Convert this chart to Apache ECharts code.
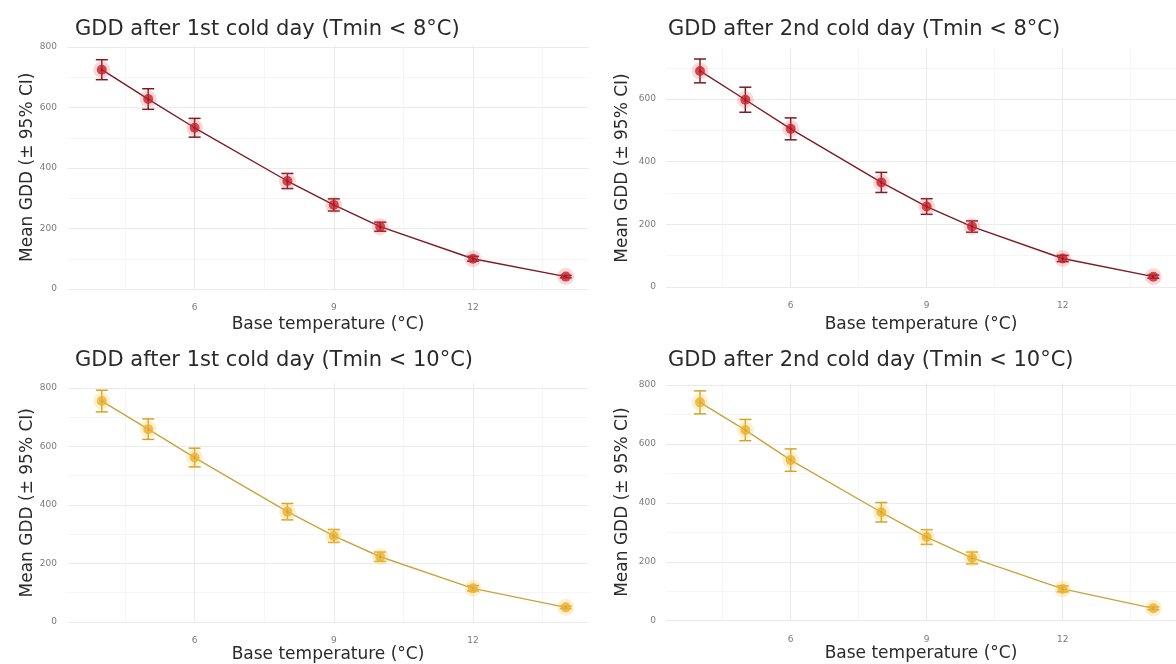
<!DOCTYPE html>
<html>
<head>
<meta charset="utf-8">
<script src="https://cdn.jsdelivr.net/npm/echarts@6/dist/echarts.min.js"></script>
<style>
  html, body { margin: 0; padding: 0; background: #fff; }
  #chart { width: 1176px; height: 664px; }
</style>
</head>
<body>
<div id="chart"></div>
<script>
// base temperatures (°C)
const baseT = [4, 5, 6, 8, 9, 10, 12, 14];

// mean GDD and half-width of the 95% CI, per panel
const mean1 = [725, 628, 533, 357, 278, 206, 100, 41];
const ci1   = [33, 34, 31, 25, 20, 15, 8, 4];
const mean2 = [690, 598, 505, 334, 257, 193, 91, 33];
const ci2   = [38, 40, 35, 32, 25, 18, 10, 5];
const mean3 = [755, 659, 562, 377, 294, 223, 115, 50];
const ci3   = [37, 35, 32, 28, 22, 16, 9, 4];
const mean4 = [741, 647, 545, 368, 284, 213, 108, 42];
const ci4   = [39, 36, 38, 33, 25, 20, 10, 5];

const titles = [
    'GDD after 1st cold day (Tmin < 8°C)',
    'GDD after 2nd cold day (Tmin < 8°C)',
    'GDD after 1st cold day (Tmin < 10°C)',
    'GDD after 2nd cold day (Tmin < 10°C)'
];
const xMajor = [6, 9, 12];
const xMinor = [4.5, 7.5, 10.5, 13.5];
const yMajor = [0, 200, 400, 600, 800];
const yMinor = [100, 300, 500, 700];

const RED = { point: '#b3121d', halo: 'rgba(235,90,100,0.3)', line: '#7e1a20', bar: '#7e1a20' };
const GOLD = { point: '#e0a526', halo: 'rgba(250,205,90,0.38)', line: '#c9a43a', bar: '#d9a21e' };

// panel layout (x range 3.25 .. 14.5)
const panels = [
    { left: 67, top: 45.5, width: 522, height: 243.5, yMax: 805, mean: mean1, ci: ci1, col: RED, tx: 70, ty: 14, yGap: 31, xGap: 27 },
    { left: 666, top: 49, width: 514, height: 238, yMax: 760, mean: mean2, ci: ci2, col: RED, tx: 663, ty: 14, yGap: 35, xGap: 29 },
    { left: 67, top: 383.5, width: 522, height: 238.5, yMax: 815, mean: mean3, ci: ci3, col: GOLD, tx: 70, ty: 345, yGap: 31, xGap: 22 },
    { left: 666, top: 383.5, width: 514, height: 237.2, yMax: 805, mean: mean4, ci: ci4, col: GOLD, tx: 663, ty: 345, yGap: 35, xGap: 24 }
];

const FONT = 'DejaVu Sans';
const gridCol = '#ebebeb';

const chart = echarts.init(document.getElementById('chart'));

const grid = [], xAxis = [], yAxis = [], series = [], title = [];

panels.forEach((p, i) => {
    grid.push({ left: p.left, top: p.top, width: p.width, height: p.height, containLabel: false });
    title.push({
        text: titles[i], left: p.tx, top: p.ty,
        textStyle: { fontFamily: FONT, fontSize: 21, fontWeight: 'normal', color: '#2a2a2a' }
    });

    // main x axis (labels + major grid)
    xAxis.push({
        type: 'value', gridIndex: i, min: 3.25, max: 14.5,
        name: 'Base temperature (°C)', nameLocation: 'middle', nameGap: p.xGap,
        nameTextStyle: { fontFamily: FONT, fontSize: 17, color: '#2a2a2a' },
        axisLine: { show: false },
        axisTick: { show: false, customValues: xMajor },
        axisLabel: { customValues: xMajor, fontFamily: FONT, fontSize: 9, color: '#7a7a7a', margin: 14 },
        splitLine: { show: true, lineStyle: { color: gridCol, width: 1.2 } }
    });
    // minor x grid
    xAxis.push({
        type: 'value', gridIndex: i, min: 3.25, max: 14.5,
        axisLine: { show: false },
        axisTick: { show: false, customValues: xMinor },
        axisLabel: { show: false, customValues: xMinor },
        splitLine: { show: true, lineStyle: { color: '#f3f3f3', width: 0.8 } }
    });
    const yLab = yMajor.filter(v => v <= p.yMax);
    yAxis.push({
        type: 'value', gridIndex: i, min: 0, max: p.yMax,
        name: 'Mean GDD (± 95% CI)', nameLocation: 'middle', nameGap: p.yGap, nameRotate: 90,
        nameTextStyle: { fontFamily: FONT, fontSize: 17, color: '#2a2a2a' },
        axisLine: { show: false },
        axisTick: { show: false, customValues: yLab },
        axisLabel: { customValues: yLab, fontFamily: FONT, fontSize: 9, color: '#7a7a7a', margin: 10 },
        splitLine: { show: true, lineStyle: { color: gridCol, width: 1.2 } }
    });
    yAxis.push({
        type: 'value', gridIndex: i, min: 0, max: p.yMax,
        axisLine: { show: false },
        axisTick: { show: false, customValues: yMinor },
        axisLabel: { show: false, customValues: yMinor },
        splitLine: { show: true, lineStyle: { color: '#f3f3f3', width: 0.8 } }
    });

    const pts = baseT.map((x, k) => [x, p.mean[k]]);
    const bars = baseT.map((x, k) => [x, p.mean[k] - p.ci[k], p.mean[k] + p.ci[k]]);

    series.push({
        type: 'line', xAxisIndex: i * 2, yAxisIndex: i * 2, data: pts,
        symbol: 'none', lineStyle: { color: p.col.line, width: 1.4 }, z: 2, silent: true
    });
    series.push({
        type: 'custom', xAxisIndex: i * 2, yAxisIndex: i * 2, data: bars, z: 3,
        renderItem: (params, api) => {
            const x = api.value(0);
            const lo = api.coord([x, api.value(1)]);
            const hi = api.coord([x, api.value(2)]);
            const w = 6;
            const st = { stroke: p.col.bar, lineWidth: 1.5 };
            return {
                type: 'group',
                children: [
                    { type: 'line', shape: { x1: lo[0], y1: lo[1], x2: hi[0], y2: hi[1] }, style: st },
                    { type: 'line', shape: { x1: lo[0] - w, y1: lo[1], x2: lo[0] + w, y2: lo[1] }, style: st },
                    { type: 'line', shape: { x1: hi[0] - w, y1: hi[1], x2: hi[0] + w, y2: hi[1] }, style: st }
                ]
            };
        }
    });
    series.push({
        type: 'scatter', xAxisIndex: i * 2, yAxisIndex: i * 2, data: pts, z: 4,
        symbolSize: 10,
        itemStyle: { color: p.col.point, borderColor: p.col.halo, borderWidth: 7 }
    });
});

chart.setOption({
    animation: false,
    backgroundColor: '#fff',
    title: title,
    grid: grid,
    xAxis: xAxis,
    yAxis: yAxis,
    series: series
});
</script>
</body>
</html>
